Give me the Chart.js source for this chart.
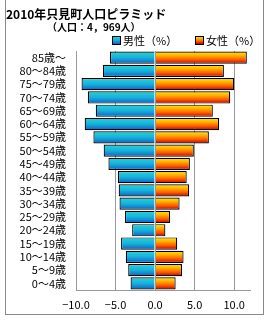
<!DOCTYPE html>
<html>
<head>
<meta charset="utf-8">
<script src="https://cdn.jsdelivr.net/npm/chart.js@4"></script>
<style>
  body { margin: 0; background: #fff; }
  #wrap { width: 270px; height: 320px; }
</style>
</head>
<body>
<div id="wrap"><canvas id="pyramid"></canvas></div>
<script>
// 年齢階級（上から）
var ageLabels = ['85歳～', '80～84歳', '75～79歳', '70～74歳', '65～69歳', '60～64歳',
  '55～59歳', '50～54歳', '45～49歳', '40～44歳', '35～39歳', '30～34歳',
  '25～29歳', '20～24歳', '15～19歳', '10～14歳', '5～9歳', '0～4歳'];
// 男性はマイナスで左側に出す
var maleData = [-5.7, -6.6, -9.3, -8.5, -7.5, -8.9, -7.8, -6.5, -5.9, -4.7, -4.6, -4.5, -3.8, -2.9, -4.3, -3.7, -3.4, -3.1];
var femaleData = [11.6, 8.7, 10.0, 9.5, 7.3, 8.1, 6.8, 4.9, 4.4, 4.0, 4.3, 3.1, 1.9, 1.3, 2.8, 3.6, 3.4, 2.6];
var seriesNames = ['男性（%）', '女性（%）'];
var xTicks = [-10, -5, 0, 5, 10];

var maleStops = ['#24d6d4', '#18b0dc', '#0a62c4'];
var femaleStops = ['#ffe800', '#ffb000', '#ff5a00', '#c00000'];

var jpFont = '"Noto Sans CJK JP", "Noto Sans", sans-serif';

function makeGradient(c, top, h, stops) {
    var g = c.createLinearGradient(0, top, 0, top + h);
    stops.forEach(function (col, i) {
        g.addColorStop(i / (stops.length - 1), col);
    });
    return g;
}

function barGradient(ctx, stops) {
    var chart = ctx.chart;
    var area = chart.chartArea;
    if (!area) return stops[1];
    var band = (area.bottom - area.top) / ageLabels.length;
    var c = chart.scales.y.getPixelForValue(ctx.dataIndex);
    var h = band * 0.92;
    return makeGradient(chart.ctx, c - h / 2, h, stops);
}

var headerPlugin = {
    id: 'header',
    beforeDraw: function (chart) {
        var c = chart.ctx;
        c.save();
        c.strokeStyle = '#888';
        c.lineWidth = 1;
        c.strokeRect(5.5, -1.5, 258, 316);
        c.fillStyle = '#000';
        c.textBaseline = 'middle';
        c.textAlign = 'left';
        c.font = 'bold 12px ' + jpFont;
        c.fillText('2010年只見町人口ピラミッド', 6, 14);
        c.font = 'bold 10px ' + jpFont;
        c.fillText('（人口：4，969人）', 47, 27);

        // 凡例
        var items = [[maleStops, 112], [femaleStops, 195]];
        c.font = '11px ' + jpFont;
        items.forEach(function (it, i) {
            var x = it[1], y = 36;
            c.fillStyle = makeGradient(c, y, 8, it[0]);
            c.fillRect(x, y, 8, 8);
            c.strokeStyle = '#000';
            c.strokeRect(x + 0.5, y + 0.5, 8, 8);
            c.fillStyle = '#000';
            c.fillText(seriesNames[i], x + 11, y + 4.5);
        });
        c.restore();
    },
    afterDatasetsDraw: function (chart) {
        // 0の線は棒の上に
        var c = chart.ctx;
        var x = Math.round(chart.scales.x.getPixelForValue(0)) + 0.5;
        c.save();
        c.strokeStyle = '#999';
        c.lineWidth = 1;
        c.beginPath();
        c.moveTo(x, chart.chartArea.top);
        c.lineTo(x, chart.chartArea.bottom);
        c.stroke();
        c.restore();
    }
};

var pyramidChart = new Chart(document.getElementById('pyramid'), {
    type: 'bar',
    data: {
        labels: ageLabels,
        datasets: [{
            label: seriesNames[0],
            data: maleData,
            backgroundColor: function (ctx) { return barGradient(ctx, maleStops); },
            borderColor: '#000',
            borderWidth: 1.2,
            borderSkipped: 'start',
            barPercentage: 0.92,
            categoryPercentage: 1
        }, {
            label: seriesNames[1],
            data: femaleData,
            backgroundColor: function (ctx) { return barGradient(ctx, femaleStops); },
            borderColor: '#000',
            borderWidth: 1.2,
            borderSkipped: 'start',
            barPercentage: 0.92,
            categoryPercentage: 1
        }]
    },
    options: {
        indexAxis: 'y',
        responsive: true,
        maintainAspectRatio: false,
        animation: false,
        layout: {
            padding: { left: 6, right: 20, top: 51, bottom: 5 }
        },
        scales: {
            x: {
                stacked: true,
                min: -10,
                max: 12,
                afterBuildTicks: function (s) {
                    s.ticks = xTicks.map(function (v) { return { value: v }; });
                },
                afterFit: function (s) { s.height = 25; },
                grid: { color: '#999', drawTicks: false },
                border: { color: '#999' },
                ticks: {
                    color: '#000',
                    padding: 8,
                    font: { size: 11, family: jpFont },
                    callback: function (v) { return (v < 0 ? '−' : '') + Math.abs(v).toFixed(1); }
                }
            },
            y: {
                stacked: true,
                afterFit: function (s) { s.width = 70; },
                grid: { display: false, drawTicks: false },
                border: { color: '#999' },
                ticks: {
                    color: '#000',
                    padding: 10,
                    autoSkip: false,
                    font: { size: 11, family: jpFont }
                }
            }
        },
        plugins: {
            title: { display: false },
            tooltip: { enabled: false },
            legend: { display: false }
        }
    },
    plugins: [headerPlugin]
});
</script>
</body>
</html>
